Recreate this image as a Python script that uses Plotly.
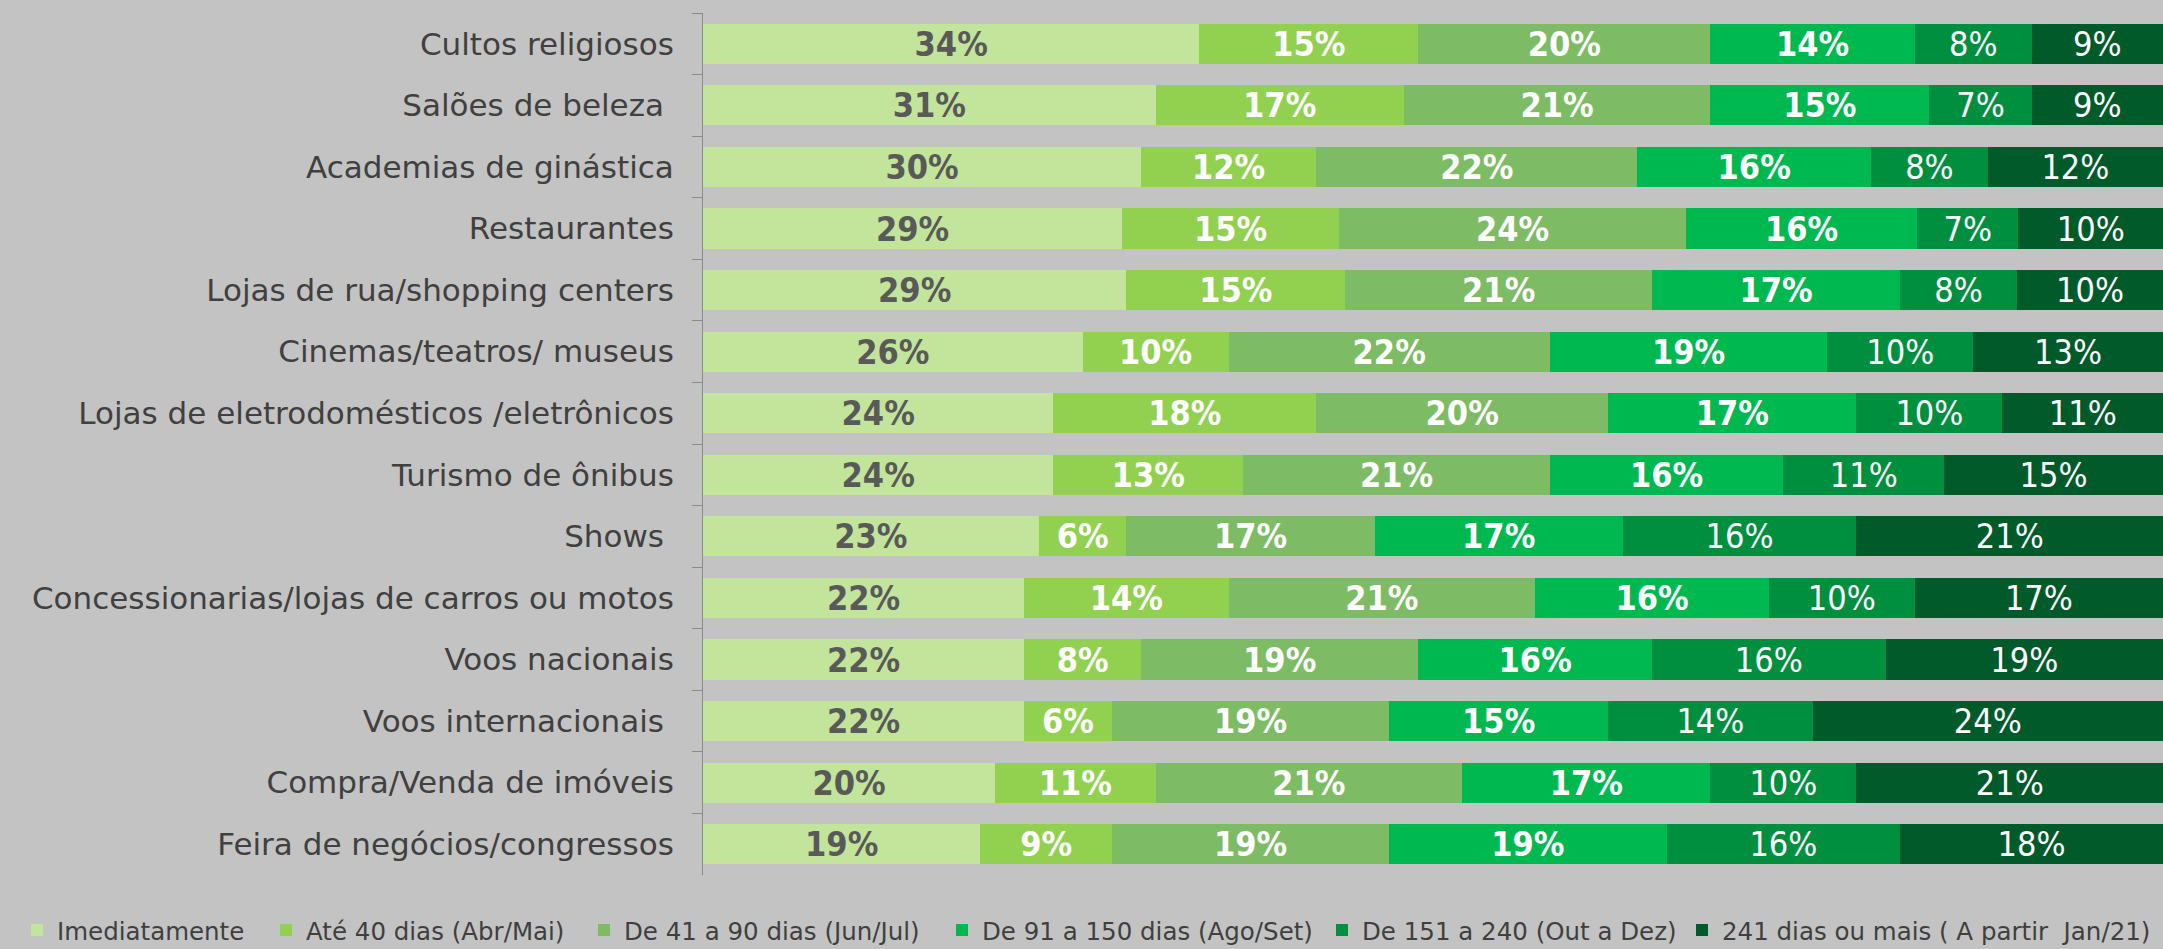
import plotly.graph_objects as go

categories = [
    "Cultos religiosos",
    "Salões de beleza ",
    "Academias de ginástica",
    "Restaurantes",
    "Lojas de rua/shopping centers",
    "Cinemas/teatros/ museus",
    "Lojas de eletrodomésticos /eletrônicos",
    "Turismo de ônibus",
    "Shows ",
    "Concessionarias/lojas de carros ou motos",
    "Voos nacionais",
    "Voos internacionais ",
    "Compra/Venda de imóveis",
    "Feira de negócios/congressos",
]

series_names = [
    "Imediatamente",
    "Até 40 dias (Abr/Mai)",
    "De 41 a 90 dias (Jun/Jul)",
    "De 91 a 150 dias (Ago/Set)",
    "De 151 a 240 (Out a Dez)",
    "241 dias ou mais ( A partir  Jan/21)",
]

imediatamente = [34, 31, 30, 29, 29, 26, 24, 24, 23, 22, 22, 22, 20, 19]
ate_40 = [15, 17, 12, 15, 15, 10, 18, 13, 6, 14, 8, 6, 11, 9]
de_41_90 = [20, 21, 22, 24, 21, 22, 20, 21, 17, 21, 19, 19, 21, 19]
de_91_150 = [14, 15, 16, 16, 17, 19, 17, 16, 17, 16, 16, 15, 17, 19]
de_151_240 = [8, 7, 8, 7, 8, 10, 10, 11, 16, 10, 16, 14, 10, 16]
mais_241 = [9, 9, 12, 10, 10, 13, 11, 15, 21, 17, 19, 24, 21, 18]

values = [imediatamente, ate_40, de_41_90, de_91_150, de_151_240, mais_241]
colors = ["#C2E49B", "#92D050", "#7EBB65", "#00B850", "#008F3F", "#005A2A"]
text_colors = ["#595959", "#FFFFFF", "#FFFFFF", "#FFFFFF", "#FFFFFF", "#FFFFFF"]
text_weights = ["bold", "bold", "bold", "bold", "normal", "normal"]

# pixel position (left edge of each legend box) for the legend entries
legend_px = [17, 266, 584, 942, 1322, 1682]

W, H = 2163, 949
ML, MR, MT, MB = 703, 0, 13, 74
PW = W - ML - MR
PH = H - MT - MB

fig = go.Figure()
legend_ids = ["legend", "legend2", "legend3", "legend4", "legend5", "legend6"]
for name, vals, col, tcol, tw, lid in zip(series_names, values, colors, text_colors, text_weights, legend_ids):
    fig.add_trace(go.Bar(
        y=categories,
        x=vals,
        name=name,
        orientation="h",
        marker=dict(color=col, line=dict(width=0)),
        text=[f"{v}%" for v in vals],
        textposition="inside",
        insidetextanchor="middle",
        constraintext="none",
        textfont=dict(family="DejaVu Sans Condensed", size=34, color=tcol, weight=tw),
        hoverinfo="skip",
        legend=lid,
    ))

legend_common = dict(
    orientation="h",
    xanchor="left",
    y=-0.09,
    yanchor="bottom",
    font=dict(family="DejaVu Sans", size=24.5, color="#3F3F3F"),
    bgcolor="rgba(0,0,0,0)",
    borderwidth=0,
)
legend_layout = {}
for lid, px in zip(legend_ids, legend_px):
    legend_layout[lid] = dict(legend_common, x=(px - ML) / PW)

fig.update_layout(
    barmode="stack",
    barnorm="percent",
    bargap=0.35,
    width=W,
    height=H,
    margin=dict(l=ML, r=MR, t=MT, b=MB, autoexpand=False),
    paper_bgcolor="#C3C3C3",
    plot_bgcolor="#C3C3C3",
    font=dict(family="DejaVu Sans", color="#404040"),
    showlegend=True,
    **legend_layout,
)

fig.update_xaxes(
    range=[0, 100],
    visible=False,
    showgrid=False,
    zeroline=False,
)
fig.update_yaxes(
    autorange="reversed",
    tickson="boundaries",
    ticks="outside",
    ticklen=10,
    tickcolor="#8A8A8A",
    showline=True,
    linecolor="#8A8A8A",
    linewidth=1,
    showgrid=False,
    tickfont=dict(family="DejaVu Sans", size=31, color="#404040"),
    ticklabelstandoff=22,
    automargin=False,
)

fig.write_html(
    "out.html",
    config={"displayModeBar": False},
    post_script="document.body.style.margin='0';document.body.style.overflow='hidden';",
)
